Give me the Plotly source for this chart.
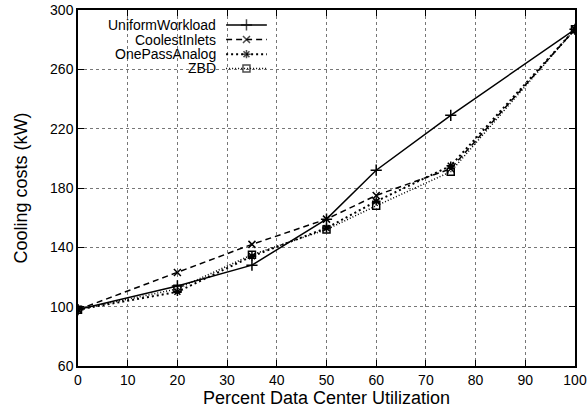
import plotly.graph_objects as go

utilization = [0, 20, 35, 50, 60, 75, 100]
uniform_workload = [98, 114, 128, 159, 192, 229, 287]
coolest_inlets = [98, 123, 142, 159, 175, 193, 287]
one_pass_analog = [98, 110, 134, 153, 171, 195, 287]
zbd = [98, 112, 135, 152, 168, 191, 287]

series_names = ["UniformWorkload", "CoolestInlets", "OnePassAnalog", "ZBD"]
series_values = [uniform_workload, coolest_inlets, one_pass_analog, zbd]
x_ticks = [0, 10, 20, 30, 40, 50, 60, 70, 80, 90, 100]
y_ticks = [60, 100, 140, 180, 220, 260, 300]

styles = [
    dict(dash="solid", width=1.5, symbol="cross-thin-open", size=8),
    dict(dash="6px,4px", width=1.5, symbol="x-thin-open", size=7),
    dict(dash="2px,3px", width=2, symbol="asterisk-open", size=7),
    dict(dash="1px,2px", width=1.5, symbol="square-open", size=7),
]

FONT = "Liberation Sans, Arial, Helvetica, sans-serif"
fig = go.Figure()

for name, vals, st in zip(series_names, series_values, styles):
    fig.add_trace(go.Scatter(
        x=utilization, y=vals, name=name, mode="lines+markers",
        line=dict(color="black", width=st["width"], dash=st["dash"]),
        marker=dict(symbol=st["symbol"], size=st["size"], color="black",
                    line=dict(color="black", width=1.5)),
        showlegend=False,
    ))

# custom legend (text on left, sample on right) drawn on an overlay axis
legend_rows = [0.958, 0.917, 0.876, 0.836]
for name, ry, st in zip(series_names, legend_rows, styles):
    fig.add_trace(go.Scatter(
        x=[0.298, 0.339, 0.380], y=[ry, ry, ry], xaxis="x2", yaxis="y2",
        mode="lines+markers",
        line=dict(color="black", width=st["width"], dash=st["dash"]),
        marker=dict(symbol=st["symbol"], size=[0, st["size"], 0], color="black",
                    line=dict(color="black", width=1.5)),
        showlegend=False, hoverinfo="skip",
    ))
    fig.add_annotation(x=0.282, y=ry, xref="paper", yref="paper", text=name,
                       showarrow=False, xanchor="right", yanchor="middle",
                       font=dict(family=FONT, size=14, color="black"))

fig.update_layout(
    width=588, height=412,
    margin=dict(l=78, r=13, t=10, b=46),
    paper_bgcolor="white", plot_bgcolor="white",
    font=dict(family=FONT, size=14, color="black"),
    xaxis=dict(range=[0, 100], tickvals=x_ticks, ticks="inside", ticklen=6,
               mirror="allticks", showline=True, linecolor="black", linewidth=1.5,
               tickcolor="black", showgrid=True, gridcolor="#777777", griddash="dot",
               gridwidth=1, zeroline=False,
               title=dict(text="Percent Data Center Utilization",
                          font=dict(size=18), standoff=4),
               automargin=False),
    yaxis=dict(range=[60, 300], tickvals=y_ticks, ticks="inside", ticklen=6,
               mirror="allticks", showline=True, linecolor="black", linewidth=1.5,
               tickcolor="black", showgrid=True, gridcolor="#777777", griddash="dot",
               gridwidth=1, zeroline=False,
               title=dict(text="Cooling costs (kW)", font=dict(size=18), standoff=18),
               automargin=False),
    xaxis2=dict(range=[0, 1], overlaying="x", visible=False),
    yaxis2=dict(range=[0, 1], overlaying="y", visible=False),
)

fig.write_html("out.html", config={"displayModeBar": False},
               post_script="document.body.style.margin='0';document.body.style.overflow='hidden';")
